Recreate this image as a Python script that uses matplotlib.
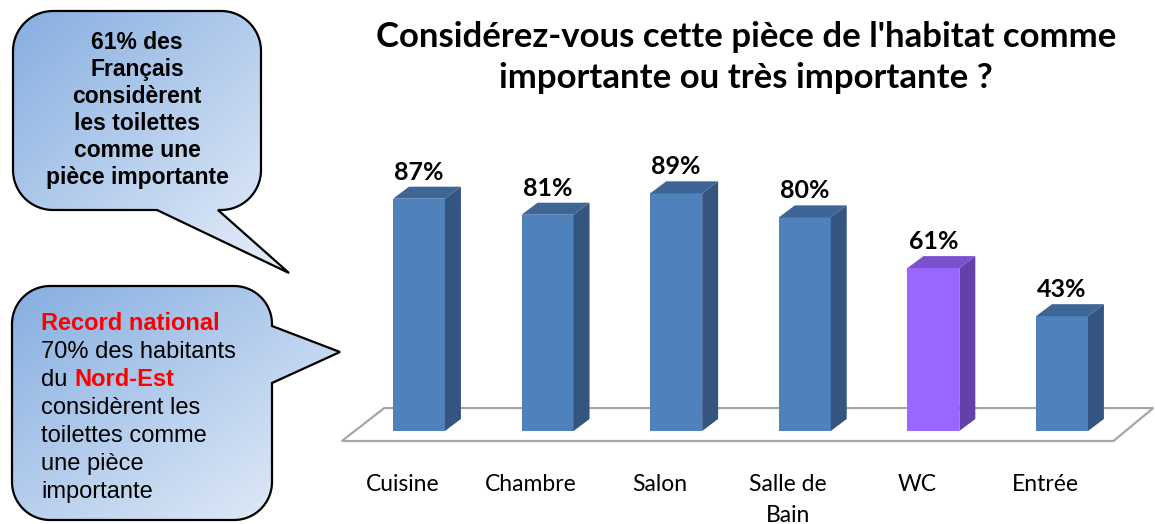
import numpy as np
import matplotlib
matplotlib.use("Agg")
import matplotlib.pyplot as plt
from matplotlib.patches import Polygon, PathPatch
from matplotlib.path import Path
from matplotlib.colors import to_rgb

# Données
pieces = ["Cuisine", "Chambre", "Salon", "Salle de\nBain", "WC", "Entrée"]
pourcents = [87, 81, 89, 80, 61, 43]
surligne = "WC"  # la barre mise en avant

titre = ["Considérez-vous cette pièce de l'habitat comme", "importante ou très importante ?"]
bulle_haut = ["61% des", "Français", "considèrent", "les toilettes", "comme une", "pièce importante"]
bulle_bas = ["70% des habitants", "considèrent les", "toilettes comme", "une pièce", "importante"]

# couleurs (face, côté, dessus)
bleu = ("#4f81bd", "#34557f", "#3d6596")
violet = ("#9966ff", "#6441a8", "#7b52cc")

W, H = 1155, 524
fig = plt.figure(figsize=(W / 100, H / 100), dpi=100)
fig.patch.set_facecolor("white")

# --- axe des barres ---
ax = fig.add_axes([354.7 / W, 93 / H, 771.6 / W, 267 / H])
ax.set_xlim(-0.5, 5.5)
ax.set_ylim(0, 100)
ax.axis("off")

x = np.arange(len(pieces))
larg = 0.404
dx, dy = 0.124, 4.5  # profondeur de l'effet 3D

# sol en perspective
sol = Polygon([(-0.6, -3.75), (-0.27, 8.6), (5.71, 8.6), (5.4, -3.75)], closed=True,
              facecolor="white", edgecolor="#a6a6a6", lw=1.6, zorder=1, clip_on=False)
ax.add_patch(sol)

couleurs = [violet if p == surligne else bleu for p in pieces]
ax.bar(x, pourcents, width=larg, color=[c[0] for c in couleurs], zorder=3)
for xi, v, c in zip(x, pourcents, couleurs):
    g, d = xi - larg / 2, xi + larg / 2
    cote = Polygon([(d, 0), (d + dx, dy), (d + dx, v + dy), (d, v)], facecolor=c[1], zorder=3, clip_on=False)
    dessus = Polygon([(g, v), (g + dx, v + dy), (d + dx, v + dy), (d, v)], facecolor=c[2], zorder=3, clip_on=False)
    ax.add_patch(cote)
    ax.add_patch(dessus)
    ax.text(xi, v + dy + 2.6, "%d%%" % v, ha="center", va="baseline", fontsize=18,
            fontweight="bold", family="Lato", clip_on=False)

for xi, p in zip(x, pieces):
    ax.text(xi - 0.13, -16, p, ha="center", va="top", fontsize=16.5, family="Lato",
            linespacing=1.6, clip_on=False)

fig.text(746 / W, 1 - 47 / H, titre[0], ha="center", va="baseline", fontsize=25,
         fontweight="bold", family="Lato")
fig.text(746 / W, 1 - 88 / H, titre[1], ha="center", va="baseline", fontsize=25,
         fontweight="bold", family="Lato")

# --- bulles ---
ov = fig.add_axes([0, 0, 1, 1], zorder=-1)
ov.set_xlim(0, W)
ov.set_ylim(H, 0)
ov.axis("off")


def bulle(x0, y0, x1, y1, r, cote, pointe):
    pts = []
    coins = [((x1 - r, y0 + r), -90), ((x1 - r, y1 - r), 0), ((x0 + r, y1 - r), 90), ((x0 + r, y0 + r), 180)]
    for k, (c, a0) in enumerate(coins):
        a = np.radians(np.linspace(a0, a0 + 90, 20))
        pts += list(zip(c[0] + r * np.cos(a), c[1] + r * np.sin(a)))
        if k == 0 and cote == "droite":
            pts += pointe
        if k == 1 and cote == "bas":
            pts += pointe
    pts.append(pts[0])
    chemin = Path(pts)
    patch = PathPatch(chemin, facecolor="none", edgecolor="black", lw=1.6, zorder=3)
    ov.add_patch(patch)
    xs = [p[0] for p in pts]
    ys = [p[1] for p in pts]
    bx0, bx1, by0, by1 = min(xs), max(xs), min(ys), max(ys)
    X, Y = np.meshgrid(np.linspace(0, 1, 200), np.linspace(0, 1, 200))
    t = ((X + Y) / 2)[..., None]
    c0, c1 = np.array(to_rgb("#86aee0")), np.array(to_rgb("#e9f0fa"))
    img = ov.imshow(c0 * (1 - t) + c1 * t, extent=(bx0, bx1, by1, by0), origin="upper",
                    aspect="auto", zorder=2)
    img.set_clip_path(patch)


bulle(13, 11, 261, 210, 40, "bas", [(218, 210), (289, 273), (157, 210)])
bulle(12, 286, 272, 520, 38, "droite", [(272, 326), (340, 352), (272, 383)])
ov.set_xlim(0, W)
ov.set_ylim(H, 0)

for i, ligne in enumerate(bulle_haut):
    ov.text(137, 49 + 27 * i, ligne, ha="center", va="baseline", fontsize=16.5,
            fontweight="bold", family="Liberation Sans", zorder=4)

ov.text(41, 330, "Record national", ha="left", va="baseline", fontsize=17,
        fontweight="bold", color="#ff0000", family="Liberation Sans", zorder=4)
ov.text(41, 358, bulle_bas[0], ha="left", va="baseline", fontsize=17,
        family="Liberation Sans", zorder=4)
ov.text(41, 386, "du", ha="left", va="baseline", fontsize=17,
        family="Liberation Sans", zorder=4)
ov.text(74, 386, "Nord-Est", ha="left", va="baseline", fontsize=17,
        fontweight="bold", color="#ff0000", family="Liberation Sans", zorder=4)
for i, ligne in enumerate(bulle_bas[1:]):
    ov.text(41, 414 + 28 * i, ligne, ha="left", va="baseline", fontsize=17,
            family="Liberation Sans", zorder=4)

fig.savefig("out.png", dpi=100)
